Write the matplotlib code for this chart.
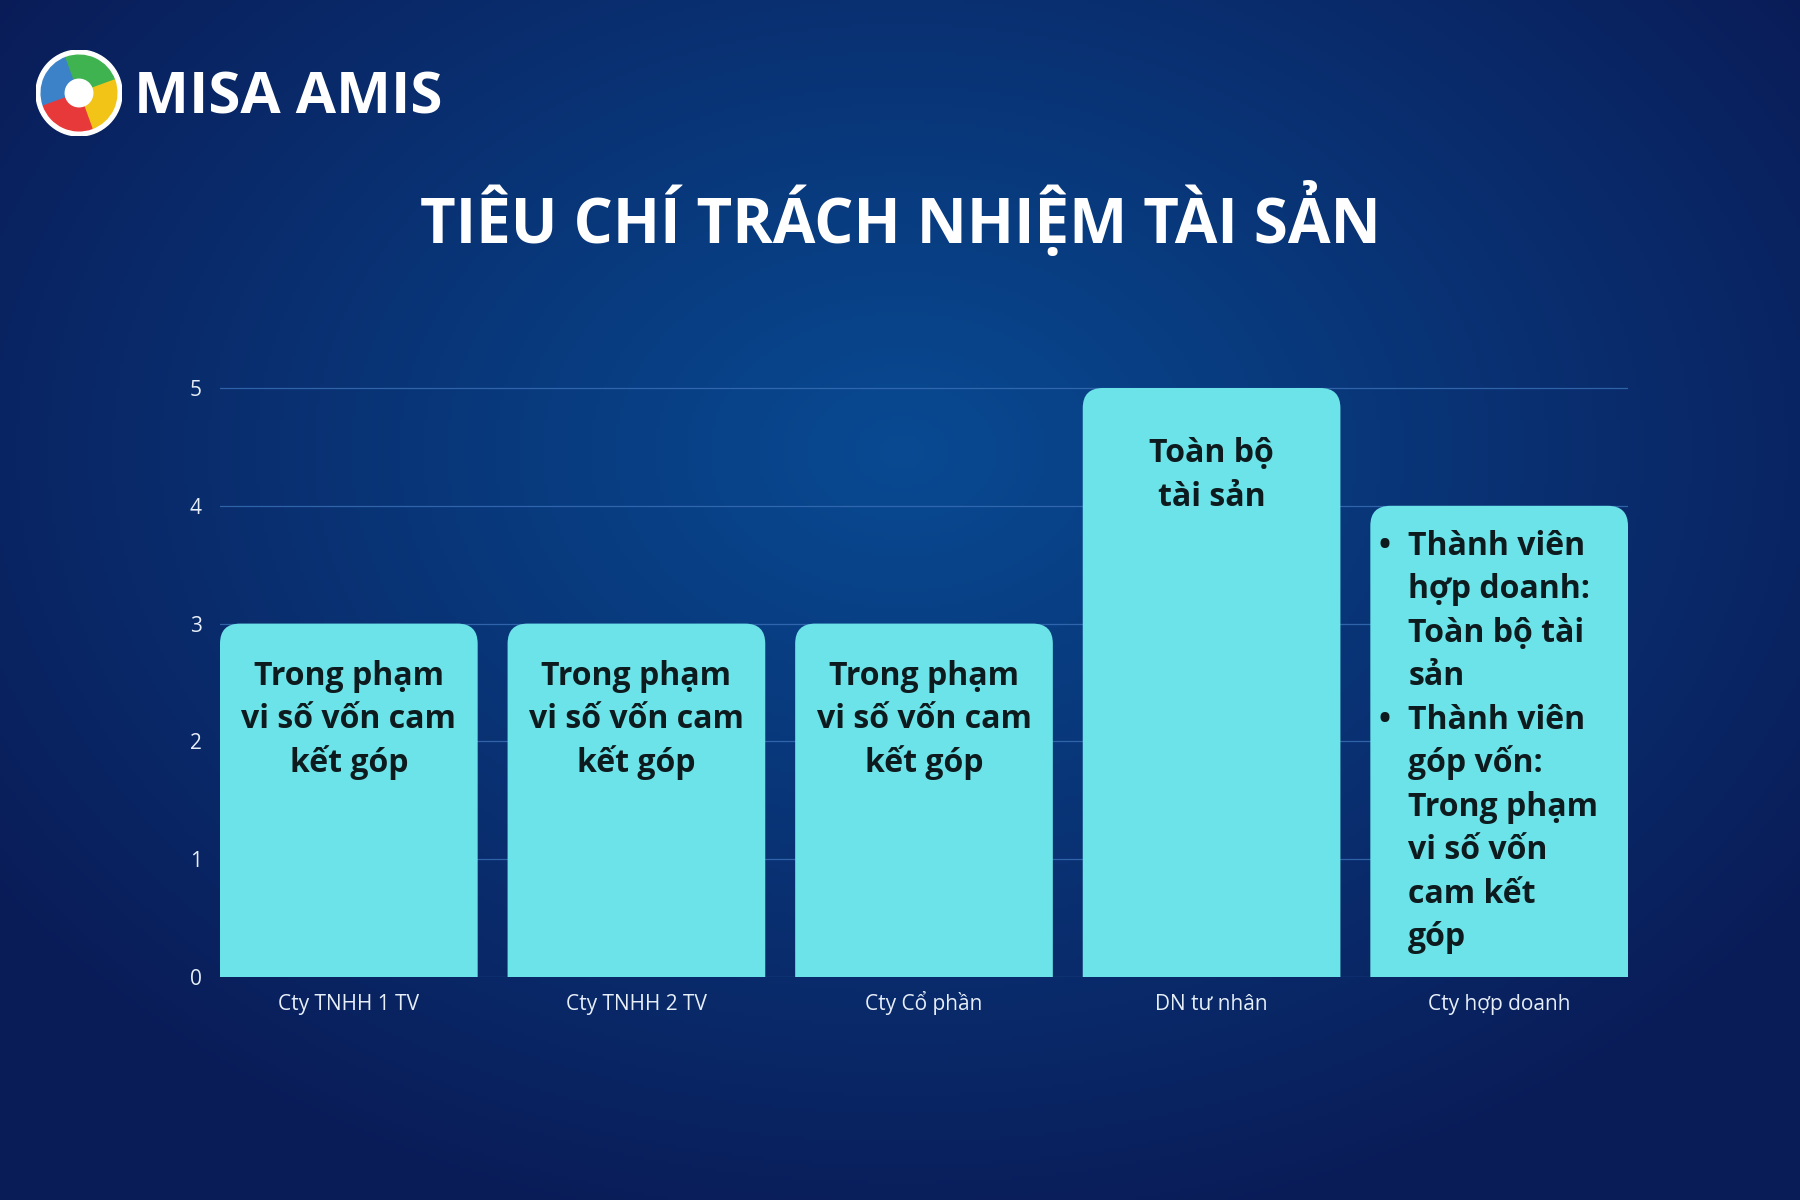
import numpy as np
import matplotlib
matplotlib.use("Agg")
import matplotlib.pyplot as plt
from matplotlib.patches import FancyBboxPatch, Wedge, Circle

plt.rcParams['font.family'] = ['Open Sans', 'DejaVu Sans']

# data
categories = ['Cty TNHH 1 TV', 'Cty TNHH 2 TV', 'Cty Cổ phần', 'DN tư nhân', 'Cty hợp doanh']
values = [3, 3, 3, 5, 4]
bar_labels = [
    ['Trong phạm', 'vi số vốn cam', 'kết góp'],
    ['Trong phạm', 'vi số vốn cam', 'kết góp'],
    ['Trong phạm', 'vi số vốn cam', 'kết góp'],
    ['Toàn bộ', 'tài sản'],
    None,
]
bullets = [
    ['Thành viên', 'hợp doanh:', 'Toàn bộ tài', 'sản'],
    ['Thành viên', 'góp vốn:', 'Trong phạm', 'vi số vốn', 'cam kết', 'góp'],
]
yticks = [0, 1, 2, 3, 4, 5]
title = 'TIÊU CHÍ TRÁCH NHIỆM TÀI SẢN'

W, H = 1800, 1200
fig = plt.figure(figsize=(18, 12), dpi=100)

# background gradient
bg = fig.add_axes([0, 0, 1, 1], zorder=0)
yy, xx = np.mgrid[0:H:4, 0:W:4]
d = np.sqrt(((xx - 900) / 1100.0) ** 2 + ((yy - 450) / 800.0) ** 2)
d = np.clip(d, 0, 1)
c_in = np.array([0x08, 0x4a, 0x92]) / 255.0
c_out = np.array([0x0a, 0x1c, 0x58]) / 255.0
img = c_in[None, None, :] * (1 - d[..., None]) + c_out[None, None, :] * d[..., None]
bg.imshow(img, extent=[0, W, H, 0], aspect='auto')
bg.set_xlim(0, W)
bg.set_ylim(H, 0)
bg.axis('off')

# logo
lg = fig.add_axes([36 / W, 1 - 136 / H, 86 / W, 86 / H], zorder=2)
lg.set_xlim(-1, 1)
lg.set_ylim(-1, 1)
lg.set_aspect('equal')
lg.axis('off')
lg.add_patch(Circle((0, 0), 1.0, color='white'))
for a0, a1, col in [(110, 200, '#3b82c9'), (20, 110, '#3fb34f'),
                    (290, 380, '#f2c418'), (200, 290, '#e8393a')]:
    lg.add_patch(Wedge((0, 0), 0.88, a0, a1, color=col))
lg.add_patch(Circle((0, 0), 0.32, color='white'))
fig.text(134 / W, 1 - 113 / H, 'MISA AMIS', color='white', fontsize=42,
         fontweight='bold', va='baseline', ha='left')

# title
fig.text(0.5, 1 - 243 / H, title, color='white', fontsize=44.5,
         fontweight='bold', ha='center', va='baseline')

# chart
ppu = 117.8   # px per unit
ymax = 5.05
ax = fig.add_axes([220 / W, 1 - 977 / H, 1408 / W, (ymax * ppu) / H], zorder=1)
ax.patch.set_alpha(0)
x = np.arange(len(categories))
bw = 0.896
ax.set_xlim(-bw / 2, len(categories) - 1 + bw / 2)
ax.set_ylim(0, ymax)
for s in ax.spines.values():
    s.set_visible(False)
ax.set_yticks(yticks)
ax.set_xticks(x)
ax.set_xticklabels(categories, va='baseline')
ax.tick_params(axis='both', length=0, colors='#e6eef8')
ax.tick_params(axis='y', pad=13, labelsize=15)
ax.tick_params(axis='x', pad=24, labelsize=15)
ax.grid(axis='y', color='#3a70b8', linewidth=0.9, alpha=0.8)
ax.set_axisbelow(True)

bar_color = '#6ce3e8'
r = 0.07
aspect = (20 / ppu) / r
first_base = [61, 61, 61, 74, 49]   # px below bar top
line_h = 43.5
fs = 23
for i, (xi, v) in enumerate(zip(x, values)):
    p = FancyBboxPatch((xi - bw / 2, -0.5), bw, v + 0.5,
                       boxstyle='round,pad=0,rounding_size=%f' % r,
                       mutation_aspect=aspect, facecolor=bar_color,
                       edgecolor='none', zorder=3)
    ax.add_patch(p)
    if bar_labels[i] is not None:
        for j, line in enumerate(bar_labels[i]):
            ax.annotate(line, (xi, v), xytext=(0, -(first_base[i] + j * line_h) * 0.72),
                        textcoords='offset points', ha='center', va='baseline',
                        fontsize=fs, fontweight='bold', color='#0d1b1e', zorder=4)
    else:
        k = 0
        for item in bullets:
            for j, line in enumerate(item):
                dy = -(first_base[i] + k * line_h) * 0.72
                if j == 0:
                    ax.annotate('•', (xi - bw / 2, v), xytext=(14 * 0.72, dy),
                                textcoords='offset points', ha='center', va='baseline',
                                fontsize=fs, fontweight='bold', color='#0d1b1e', zorder=4)
                ax.annotate(line, (xi - bw / 2, v), xytext=(38 * 0.72, dy),
                            textcoords='offset points', ha='left', va='baseline',
                            fontsize=fs, fontweight='bold', color='#0d1b1e', zorder=4)
                k += 1

fig.savefig('out.png', dpi=100)
